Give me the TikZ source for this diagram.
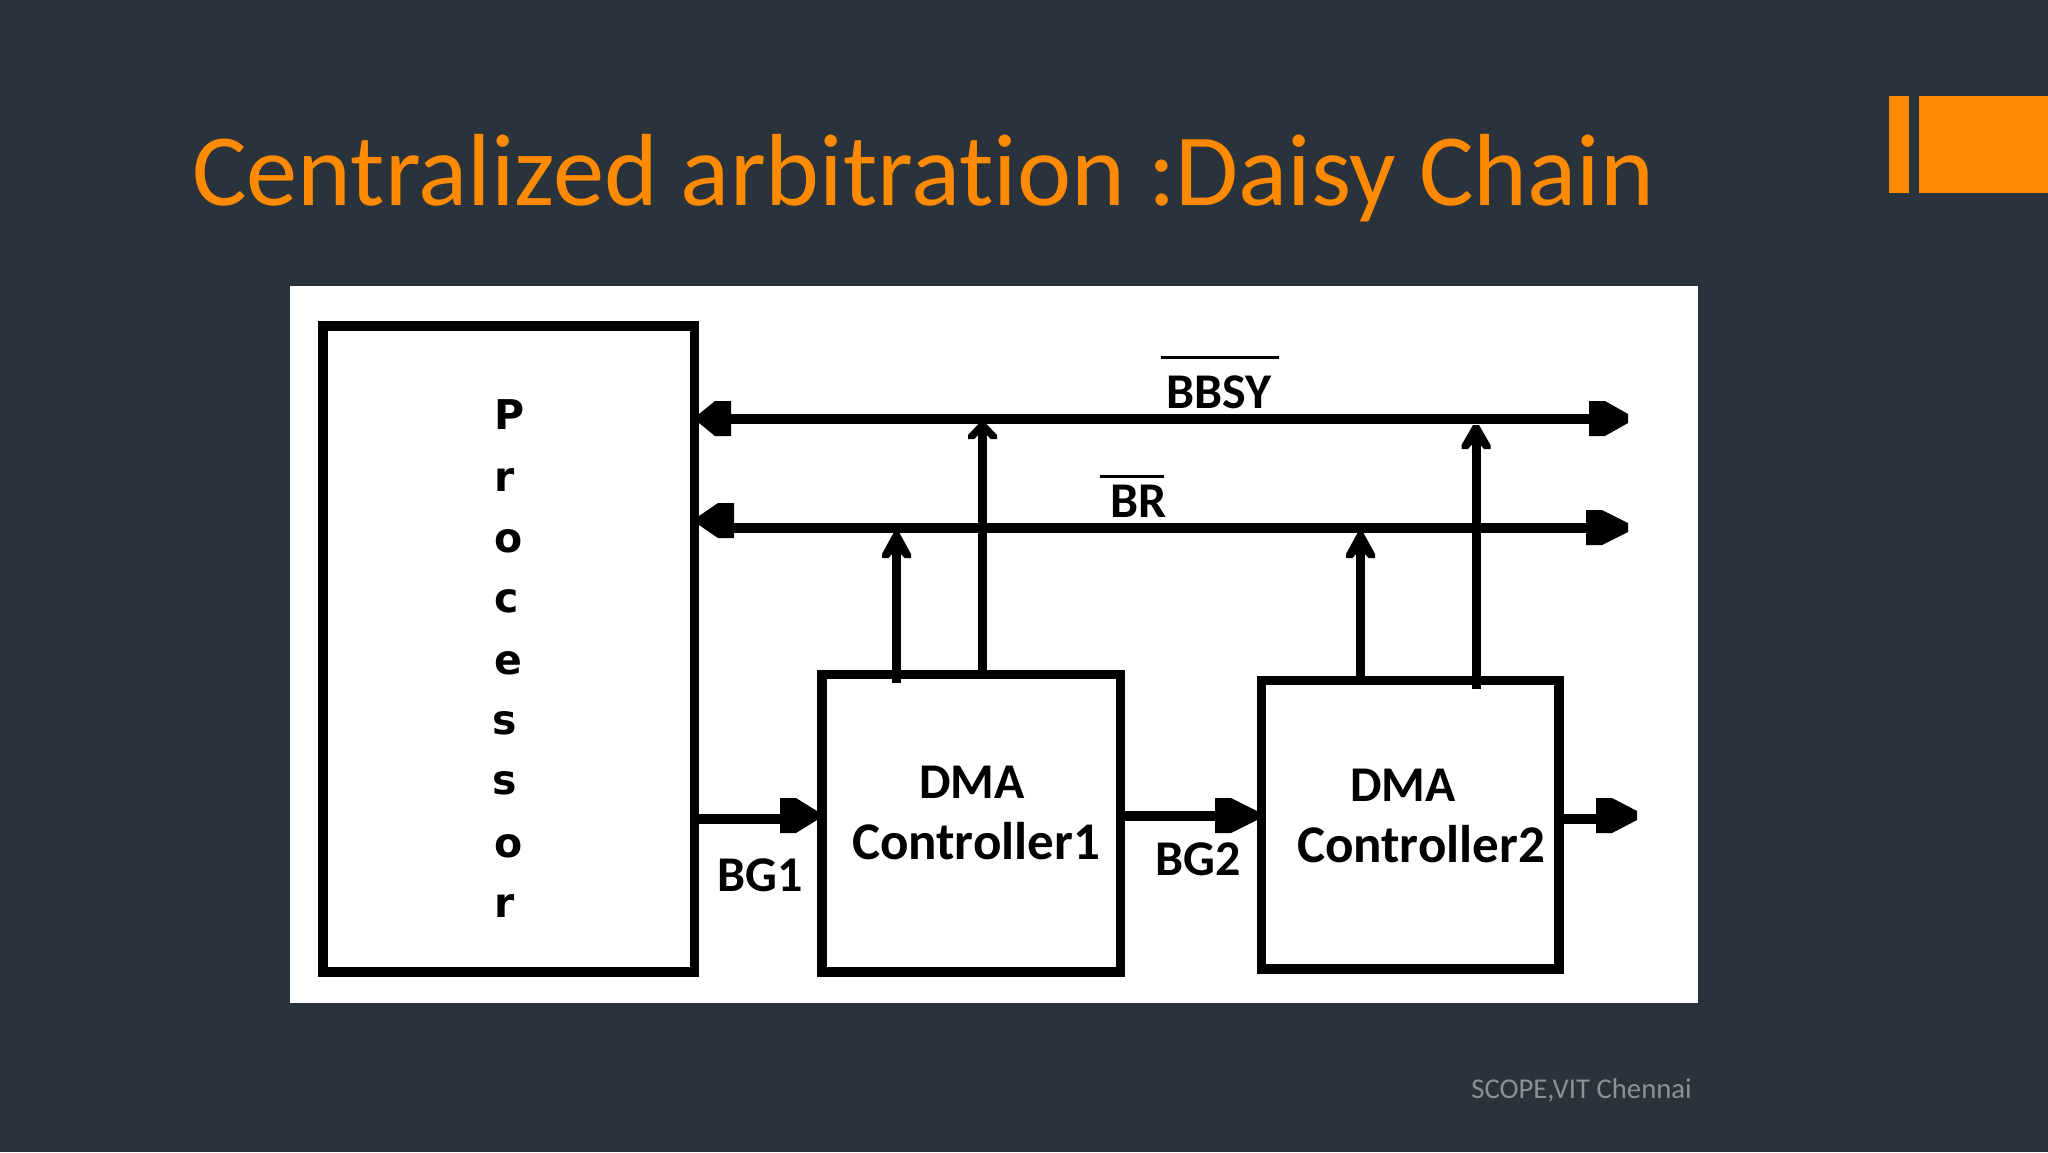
\documentclass[tikz,border=0pt]{standalone}
\usepackage{fontspec}
\setmainfont{Carlito}[Ligatures={NoCommon}]
\newfontfamily\procfont{DejaVu Sans}
\definecolor{slide}{HTML}{2A323C}
\definecolor{accent}{HTML}{FF8A00}
\definecolor{foot}{HTML}{8C9196}
\newcommand{\hdR}[3]{\fill[black] (#1,#3-17.5) -- (#1+16,#3-17.5) -- (#2,#3-4.5) -- (#2,#3+4.5) -- (#1+16,#3+17.5) -- (#1,#3+17.5) -- cycle;}
\newcommand{\hdL}[3]{\fill[black] (#1,#3-17.5) -- (#1-16,#3-17.5) -- (#2,#3-4.5) -- (#2,#3+4.5) -- (#1-16,#3+17.5) -- (#1,#3+17.5) -- cycle;}
\newcommand{\hdU}[3]{\fill[black] (#1-3,#2) -- (#1+3,#2) -- (#1+14.5,#3-4) -- (#1+14.5,#3) -- (#1+8,#3) -- (#1+4.5,#3-4) -- (#1-4.5,#3-4) -- (#1-8,#3) -- (#1-14.5,#3) -- (#1-14.5,#3-4) -- cycle;}
\begin{document}
\begin{tikzpicture}[x=1pt,y=-1pt,
  box/.style={draw=black,fill=white,line width=9.5pt,inner sep=0pt,outer sep=0pt,anchor=north west},
  bus/.style={draw=black,line width=10pt},
  wire/.style={draw=black,line width=9pt},
  lbl/.style={font=\fontsize{50}{50}\selectfont\bfseries,text=black,inner sep=0pt,anchor=base},
  lblw/.style={font=\fontsize{53}{53}\selectfont\bfseries,text=black,inner sep=0pt,anchor=base},
  pl/.style={font=\procfont\fontsize{41}{41}\selectfont\bfseries,text=black,inner sep=0pt,anchor=base}]
\useasboundingbox (0,0) rectangle (2048,1152);
\fill[slide] (0,0) rectangle (2048,1152);
\fill[accent] (1889,96) rectangle (1909,193);
\fill[accent] (1919,96) rectangle (2048,193);
\node[font=\fontsize{102.5}{102.5}\selectfont,text=accent,inner sep=0pt,anchor=base west] (title) at (192,205) {Centralized arbitration :Daisy Chain};
\node[font=\fontsize{28.7}{28.7}\selectfont,text=foot,inner sep=0pt,anchor=base east] (footer) at (1692,1098) {SCOPE,VIT Chennai};
\fill[white] (290,286) rectangle (1698,1003);

\node[box,minimum width=371.5pt,minimum height=646pt] (proc) at (323,326) {};
\node[box,minimum width=298.5pt,minimum height=297.5pt] (dma1) at (822,674.5) {};
\node[box,minimum width=297.5pt,minimum height=288.5pt] (dma2) at (1261.5,680.5) {};

\foreach \n/\c/\xx/\yy in {a/P/510/429,b/r/505/491,c/o/509/552,d/c/507/612,e/e/508/674,f/s/505/734,g/s/505/794,h/o/509/857,i/r/505/917}
  \node[pl] (p\n) at (\xx,\yy) {\c};

% buses
\coordinate (bbsyL) at (715,418.5); \coordinate (bbsyR) at (1600,418.5);
\coordinate (brL) at (715,527.5);   \coordinate (brR) at (1600,527.5);
\draw[bus] (bbsyL) -- (bbsyR);
\draw[bus] (brL) -- (brR);
\hdL{731}{699}{418.5}
\hdL{734}{699}{520.5}
\hdR{1589}{1628}{418.5}
\hdR{1586}{1628}{527.5}

% vertical links
\coordinate (u1t) at (896.5,545); \coordinate (u1b) at (896.5,683);
\coordinate (u2t) at (982.5,418.5); \coordinate (u2b) at (982.5,672);
\coordinate (u3t) at (1360.5,545); \coordinate (u3b) at (1360.5,679);
\coordinate (u4t) at (1476,436); \coordinate (u4b) at (1476,689);
\draw[wire] (u1b) -- (u1t);
\draw[wire] (u2b) -- (u2t);
\draw[wire] (u3b) -- (u3t);
\draw[wire] (u4b) -- (u4t);
\hdU{896.5}{533}{558}
\hdU{982.5}{423}{439}
\hdU{1360.5}{533}{558}
\hdU{1476}{425}{449}

% grant links
\coordinate (bg1s) at (proc.east |- 0,818.5); \coordinate (bg1e) at (790,818.5);
\coordinate (bg2s) at (dma1.east |- 0,815.5); \coordinate (bg2e) at (1225,815.5);
\coordinate (outs) at (dma2.east |- 0,818.5); \coordinate (oute) at (1606,818.5);
\draw[bus] (bg1s) -- (bg1e);
\draw[bus] (bg2s) -- (bg2e);
\draw[bus] (outs) -- (oute);
\hdR{780}{817}{815.5}
\hdR{1215}{1257}{815.5}
\hdR{1596}{1637}{815.5}

% labels
\node[lbl] (bbsy) at (1219,408) {BBSY};
\node[lbl] (br) at (1139,517) {BR};
\node[lbl] (bg1) at (760,891) {BG1};
\node[lbl] (bg2) at (1198,875) {BG2};
\node[lbl] (d1) at (972,798) {DMA};
\node[lblw] (c1) at (976,859) {Controller1};
\node[lbl] (d2) at (1403,801) {DMA};
\node[lblw] (c2) at (1421,862) {Controller2};
\fill[black] (1161,356) rectangle (1279,359);
\fill[black] (1100,475) rectangle (1164,478);
\end{tikzpicture}
\end{document}
